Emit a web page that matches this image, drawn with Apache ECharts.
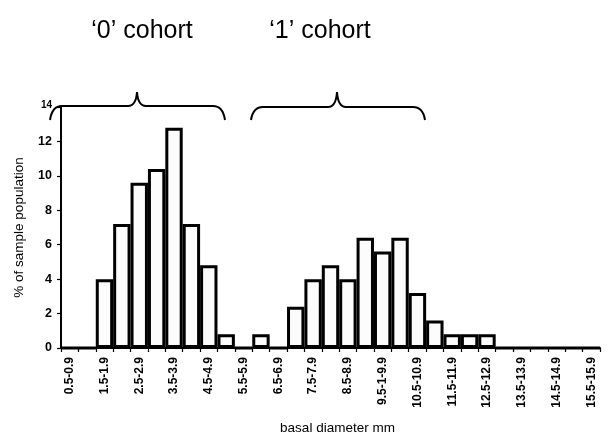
<!DOCTYPE html>
<html>
<head>
<meta charset="utf-8">
<script src="https://cdn.jsdelivr.net/npm/echarts@6/dist/echarts.min.js"></script>
<style>
html,body{margin:0;padding:0;background:#fff;}
#c{width:611px;height:436px;}
</style>
</head>
<body>
<div id="c"></div>
<script>
// Bins of basal diameter (mm); every other bin is labelled on the axis
const categories = ["0.5-0.9","1.0-1.4","1.5-1.9","2.0-2.4","2.5-2.9","3.0-3.4","3.5-3.9","4.0-4.4","4.5-4.9","5.0-5.4",
  "5.5-5.9","6.0-6.4","6.5-6.9","7.0-7.4","7.5-7.9","8.0-8.4","8.5-8.9","9.0-9.4","9.5-1-9.9","10.0-10.4",
  "10.5-10.9","11.0-11.4","11.5-11.9","12.0-12.4","12.5-12.9","13.0-13.4","13.5-13.9","14.0-14.4","14.5-14.9","15.0-15.4","15.5-15.9"];
// % of sample population
const percentValues = [0,0,4.0,7.2,9.6,10.4,12.8,7.2,4.8,0.8,
  0,0.8,0,2.4,4.0,4.8,4.0,6.4,5.6,6.4,
  3.2,1.6,0.8,0.8,0.8,0,0,0,0,0,0];
const yTicks = [0,2,4,6,8,10,12,14];
const cohortLabels = ["\u20180\u2019 cohort", "\u20181\u2019 cohort"];

const chart = echarts.init(document.getElementById('c'), null, {renderer:'canvas'});
const FONT = '"Liberation Sans", Arial, sans-serif';

// curly bracket decoration built from line / quadratic curve pieces
function bracket(x0, x1, xm, yTop, yPeak, yEnd) {
  const st = {stroke: '#000', lineWidth: 2, fill: 'none'};
  return [
    {type: 'bezierCurve', shape: {x1: x0, y1: yEnd, cpx1: x0 + 2, cpy1: yTop, x2: x0 + 12, y2: yTop}, style: st},
    {type: 'line', shape: {x1: x0 + 12, y1: yTop, x2: xm - 9, y2: yTop}, style: st},
    {type: 'bezierCurve', shape: {x1: xm - 9, y1: yTop, cpx1: xm - 1, cpy1: yTop, x2: xm, y2: yPeak}, style: st},
    {type: 'bezierCurve', shape: {x1: xm, y1: yPeak, cpx1: xm + 1, cpy1: yTop, x2: xm + 9, y2: yTop}, style: st},
    {type: 'line', shape: {x1: xm + 9, y1: yTop, x2: x1 - 12, y2: yTop}, style: st},
    {type: 'bezierCurve', shape: {x1: x1 - 12, y1: yTop, cpx1: x1 - 2, cpy1: yTop, x2: x1, y2: yEnd}, style: st}
  ];
}

chart.setOption({
  backgroundColor: '#fff',
  animation: false,
  grid: {left: 61, right: 11, top: 107, bottom: 88, containLabel: false, outerBoundsMode: 'none'},
  xAxis: {
    type: 'category',
    data: categories,
    boundaryGap: true,
    name: 'basal diameter mm',
    nameLocation: 'middle',
    nameGap: 73,
    nameTextStyle: {fontFamily: FONT, fontSize: 13.5, color: '#000', padding: [0,0,0,14]},
    axisLine: {show: true, lineStyle: {color: '#000', width: 2}},
    axisTick: {show: true, interval: 0, length: 4, lineStyle: {color: '#000', width: 1.2}},
    axisLabel: {interval: 1, rotate: 90, margin: 9, fontFamily: FONT, fontSize: 12, fontWeight: 'bold', color: '#000'},
    splitLine: {show: false}
  },
  yAxis: {
    type: 'value',
    min: yTicks[0],
    max: yTicks[yTicks.length-1],
    interval: 2,
    name: '% of sample population',
    nameLocation: 'middle',
    nameGap: 35,
    nameTextStyle: {fontFamily: FONT, fontSize: 13.5, color: '#000'},
    axisLine: {show: true, lineStyle: {color: '#000', width: 2}},
    axisTick: {show: true, length: 4, lineStyle: {color: '#000', width: 1.2}},
    axisLabel: {
      margin: 9, fontFamily: FONT, fontSize: 12.5, fontWeight: 'bold', color: '#000',
      formatter: function(v){ return v === 14 ? '{s|14}' : String(v); },
      rich: {s: {fontFamily: FONT, fontSize: 10, fontWeight: 'bold', color: '#000', padding:[0,0,4,0]}}
    },
    splitLine: {show: false}
  },
  series: [{
    type: 'bar',
    data: percentValues,
    barCategoryGap: '0%',
    itemStyle: {color: '#fcfcfc', borderColor: '#000', borderWidth: 3},
    z: 1
  }],
  graphic: [
    {type: 'text', x: 142, y: 31, style: {text: cohortLabels[0], font: '25px ' + FONT, fill: '#000', align: 'center', verticalAlign: 'middle'}},
    {type: 'text', x: 320, y: 31, style: {text: cohortLabels[1], font: '25px ' + FONT, fill: '#000', align: 'center', verticalAlign: 'middle'}}
  ].concat(bracket(50, 225, 137, 106, 92, 120)).concat(bracket(251, 425, 337, 107, 92, 120))
});
</script>
</body>
</html>
